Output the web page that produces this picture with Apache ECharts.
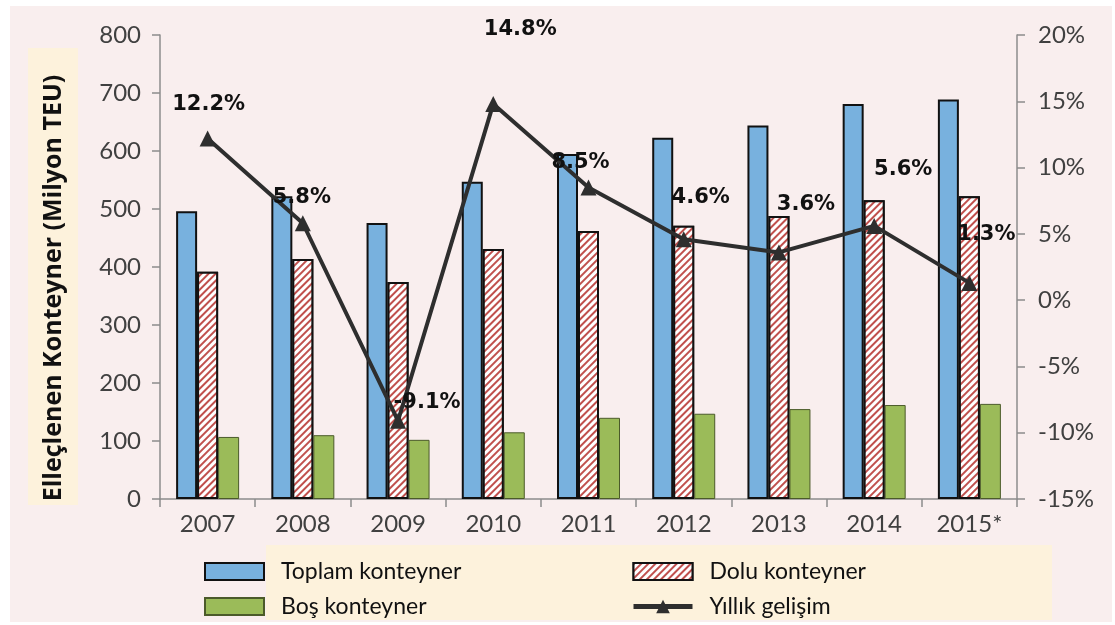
<!DOCTYPE html>
<html><head><meta charset="utf-8">
<script src="https://cdn.jsdelivr.net/npm/echarts@6/dist/echarts.min.js"></script>
<style>html,body{margin:0;padding:0;background:#fff}#c{width:1115px;height:625px}</style>
</head><body><div id="c"></div><script>
// ---- data ----
const years = ['2007','2008','2009','2010','2011','2012','2013','2014','2015*'];
const toplam = [496, 522, 476, 547, 595, 623, 644, 681, 689];
const dolu   = [392, 414, 374, 431, 462, 471, 488, 515, 522];
const bos    = [107, 110, 102, 115, 140, 147, 155, 162, 164];
const growth = [12.2, 5.8, -9.1, 14.8, 8.5, 4.6, 3.6, 5.6, 1.3];
const seriesNames = ['Toplam konteyner', 'Dolu konteyner', 'Boş konteyner', 'Yıllık gelişim'];
const yTitle = 'Elleçlenen Konteyner (Milyon TEU)';
// label offsets (style, not data)
const labelOffsets = [[1,-34],[-1,-26],[29,-18],[27,-74],[-8,-25],[17,-42],[27,-48],[29,-56],[17,-48]];

const chart = echarts.init(document.getElementById('c'), null, {renderer:'canvas'});
const tickFont = {fontFamily:'Lato', fontSize:24, color:'#404040'};
const axisLine = {show:true, lineStyle:{color:'#8c8c8c', width:1.5}};
const axisTick = {show:true, length:8, lineStyle:{color:'#8c8c8c', width:1.5}};
const legendText = {fontFamily:'Lato', fontSize:23, lineHeight:22, color:'#111', padding:[0,0,0,12]};

const option = {
  backgroundColor:'#ffffff',
  animation:false,
  graphic:[
    {type:'rect', z:-100, shape:{x:10,y:6,width:1102,height:616}, style:{fill:'#f9eeee'}},
    {type:'rect', z:-99, shape:{x:28,y:48,width:50,height:457}, style:{fill:'#fdf2dc'}},
    {type:'rect', z:-99, shape:{x:266,y:545,width:786,height:75}, style:{fill:'#fdf2dc'}},
    {type:'text', z:10, x:54, y:288, rotation:Math.PI/2,
     style:{text:yTitle, fontFamily:'Open Sans', fontWeight:'bold', fontSize:25, fill:'#111',
            textAlign:'center', textVerticalAlign:'middle'}}
  ],
  grid:{left:160, right:98, top:35, bottom:126, containLabel:false},
  legend:[
    {data:[{name:seriesNames[0], icon:'rect'}, {name:seriesNames[2], icon:'rect'}], orient:'vertical', left:199, top:555, height:70,
     itemWidth:59, itemHeight:17, itemGap:12, selectedMode:false, textStyle:legendText},
    {data:[{name:seriesNames[1], icon:'rect'}, {name:seriesNames[3], lineStyle:{width:5}}], orient:'vertical', left:626, top:555, height:70,
     itemWidth:59, itemHeight:17, itemGap:12, selectedMode:false, textStyle:legendText}
  ],
  xAxis:{type:'category', data:years, axisLine:axisLine, axisTick:axisTick,
    axisLabel:Object.assign({margin:13}, tickFont)},
  yAxis:[
    {type:'value', min:0, max:800, interval:100, position:'left',
     axisLine:axisLine, axisTick:axisTick, splitLine:{show:false},
     axisLabel:Object.assign({margin:19}, tickFont)},
    {type:'value', min:-15, max:20, interval:5, position:'right',
     axisLine:axisLine, axisTick:axisTick, splitLine:{show:false},
     axisLabel:Object.assign({margin:21, formatter:'{value}%'}, tickFont)}
  ],
  series:[
    {name:seriesNames[0], type:'bar', data:toplam, barWidth:21, barGap:'0%', barCategoryGap:'33%',
     itemStyle:{color:'#78b1de', borderColor:'#111', borderWidth:2}},
    {name:seriesNames[1], type:'bar', data:dolu, barWidth:21, barGap:'0%',
     itemStyle:{color:'#ffffff', borderColor:'#111', borderWidth:2,
       decal:{symbol:'rect', symbolSize:1, color:'#c0504d', backgroundColor:'#ffffff',
              dashArrayX:[1,0], dashArrayY:[2,3], rotation:-Math.PI/4}}},
    {name:seriesNames[2], type:'bar', data:bos, barWidth:21, barGap:'0%',
     itemStyle:{color:'#9bbb59', borderColor:'#4b5a2a', borderWidth:1}},
    {name:seriesNames[3], type:'line', yAxisIndex:1, z:5,
     data:growth.map((v,i)=>({value:v, label:{offset:labelOffsets[i]}})),
     symbol:'triangle', symbolSize:16,
     lineStyle:{color:'#2e2e2e', width:4}, itemStyle:{color:'#2e2e2e'},
     label:{show:true, position:'inside', formatter:p=>p.value.toFixed(1)+'%',
       fontFamily:'DejaVu Sans', fontWeight:'bold', fontSize:21, color:'#111'}}
  ]
};
chart.setOption(option);
</script></body></html>
